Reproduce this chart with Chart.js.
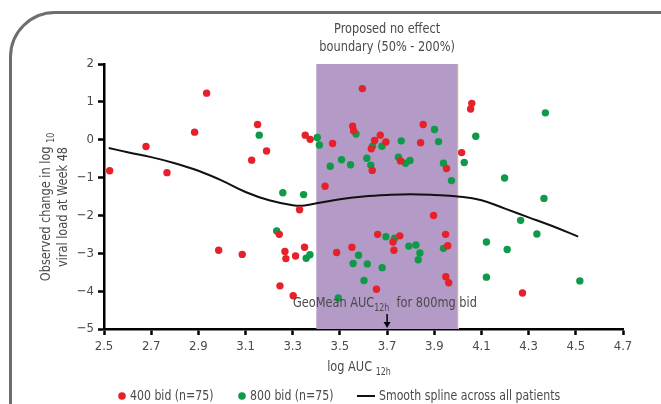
<!DOCTYPE html>
<html>
<head>
<meta charset="utf-8">
<script src="https://cdn.jsdelivr.net/npm/chart.js@4.4.1/dist/chart.umd.min.js"></script>
<style>
	html, body { margin: 0; padding: 0; background: #fff; overflow: hidden; }
	#wrap { position: relative; width: 661px; height: 404px; overflow: hidden; }
	#frame { position: absolute; left: 9px; top: 11px; width: 700px; height: 460px;
		border: 3px solid #6e6e6e; border-radius: 46px; box-sizing: border-box; }
	#chart { position: absolute; left: 0; top: 0; }
</style>
</head>
<body>
<div id="wrap">
	<div id="frame"></div>
	<canvas id="chart" width="661" height="404"></canvas>
</div>
<script>
var xTicks = [2.5, 2.7, 2.9, 3.1, 3.3, 3.5, 3.7, 3.9, 4.1, 4.3, 4.5, 4.7];
var yTicks = [2, 1, 0, -1, -2, -3, -4, -5];
var bandStart = 3.4;
var bandEnd = 4.0;
var geoMean = 3.7;

// 400 bid (red)
var redX = [2.524, 2.678, 2.767, 2.884, 2.935, 3.126, 3.151, 3.189, 3.353, 3.374,
	3.469, 3.437, 3.595, 3.554, 3.558, 3.671, 3.647, 3.633, 3.695, 3.637,
	3.757, 3.853, 3.842, 3.952, 4.059, 4.054, 4.016, 3.329, 3.243, 2.986,
	3.086, 3.267, 3.271, 3.312, 3.350, 3.246, 3.302, 3.897, 3.948, 3.957,
	3.949, 3.961, 3.486, 3.551, 3.655, 3.660, 3.754, 3.725, 3.729, 4.274];
var redY = [-0.82, -0.18, -0.87, 0.20, 1.23, -0.54, 0.40, -0.30, 0.12, 0.01,
	-0.10, -1.23, 1.35, 0.36, 0.24, 0.12, -0.02, -0.24, -0.06, -0.81,
	-0.56, 0.40, -0.08, -0.76, 0.96, 0.81, -0.34, -1.85, -2.50, -2.92,
	-3.03, -2.95, -3.14, -3.07, -2.84, -3.86, -4.12, -2.00, -2.50, -2.80,
	-3.62, -3.78, -2.98, -2.84, -3.95, -2.50, -2.54, -2.70, -2.92, -4.05];

// 800 bid (green)
var greenX = [3.158, 3.258, 3.346, 3.404, 3.413, 3.459, 3.507, 3.545, 3.568, 3.638,
	3.614, 3.631, 3.678, 3.760, 3.748, 3.778, 3.797, 3.901, 3.918, 3.939,
	3.973, 4.076, 4.027, 4.371, 4.198, 4.365, 4.266, 4.335, 4.121, 4.209,
	4.121, 4.517, 3.939, 3.232, 3.357, 3.373, 3.579, 3.556, 3.616, 3.602,
	3.679, 3.493, 3.695, 3.732, 3.792, 3.822, 3.839, 3.832];
var greenY = [0.12, -1.40, -1.45, 0.06, -0.14, -0.70, -0.53, -0.66, 0.15, -0.17,
	-0.49, -0.67, -0.17, -0.03, -0.46, -0.62, -0.55, 0.27, -0.05, -0.62,
	-1.08, 0.09, -0.60, 0.71, -1.01, -1.55, -2.13, -2.49, -2.70, -2.90,
	-3.63, -3.73, -2.87, -2.41, -3.13, -3.04, -3.05, -3.27, -3.28, -3.72,
	-3.38, -4.18, -2.56, -2.60, -2.81, -2.78, -2.99, -3.17];

// smooth spline across all patients
var splineX = [2.52, 2.6, 2.7, 2.8, 2.9, 3.0, 3.1, 3.2, 3.3, 3.35, 3.4, 3.5, 3.6,
	3.7, 3.8, 3.9, 4.0, 4.1, 4.2, 4.3, 4.4, 4.51];
var splineY = [-0.22, -0.33, -0.46, -0.62, -0.82, -1.08, -1.38, -1.60, -1.73, -1.74, -1.68, -1.57, -1.50,
	-1.46, -1.44, -1.46, -1.50, -1.60, -1.82, -2.05, -2.28, -2.56];

var RED = '#e62129';
var GREEN = '#0e9a48';
var PURPLE = '#b49ac7';
var TEXT = '#4a4a4a';
var FONT = "'DejaVu Sans Condensed', 'Liberation Sans Narrow', sans-serif";
var SQUEEZE = 0.87;

var toPoints = function(xs, ys) {
	return xs.map(function(x, i) { return { x: x, y: ys[i] }; });
};

// text with subscript pieces, squeezed horizontally to look condensed
// align: 'center' or 'left'
var richText = function(ctx, parts, x, y, size, align) {
	var widths = parts.map(function(p) {
		ctx.font = (p.sub ? size * 0.7 : size) + 'px ' + FONT;
		return ctx.measureText(p.t).width;
	});
	var total = widths.reduce(function(a, b) { return a + b; }, 0);
	ctx.save();
	ctx.translate(x, y);
	ctx.scale(SQUEEZE, 1);
	var cx = align === 'left' ? 0 : -total / 2;
	ctx.textAlign = 'left';
	ctx.textBaseline = 'middle';
	parts.forEach(function(p, i) {
		ctx.font = (p.sub ? size * 0.7 : size) + 'px ' + FONT;
		ctx.fillText(p.t, cx, p.sub ? size * 0.35 : 0);
		cx += widths[i];
	});
	ctx.restore();
};

var bandPlugin = {
	id: 'band',
	beforeDatasetsDraw: function(chart) {
		var ctx = chart.ctx, xs = chart.scales.x, a = chart.chartArea;
		var x0 = xs.getPixelForValue(bandStart), x1 = xs.getPixelForValue(bandEnd);
		ctx.save();
		ctx.fillStyle = PURPLE;
		ctx.fillRect(x0, a.top, x1 - x0, a.bottom - a.top);
		ctx.fillStyle = '#f3eedd';
		ctx.fillRect(x1, a.top, 1, a.bottom - a.top);
		ctx.restore();
	}
};

var textPlugin = {
	id: 'texts',
	afterDraw: function(chart) {
		var ctx = chart.ctx, xs = chart.scales.x, a = chart.chartArea;
		ctx.save();
		ctx.fillStyle = TEXT;

		// top annotation
		var bx = (xs.getPixelForValue(bandStart) + xs.getPixelForValue(bandEnd)) / 2;
		richText(ctx, [{ t: 'Proposed no effect' }], bx, 29, 14.5);
		richText(ctx, [{ t: 'boundary (50% - 200%)' }], bx, 47, 14.5);

		// geomean annotation + arrow
		var gx = xs.getPixelForValue(geoMean);
		richText(ctx, [{ t: 'GeoMean AUC' }, { t: '12h', sub: true }, { t: '  for 800mg bid' }], 293, 303, 14.5, 'left');
		ctx.strokeStyle = '#000';
		ctx.fillStyle = '#000';
		ctx.lineWidth = 1.5;
		ctx.beginPath();
		ctx.moveTo(gx, a.bottom - 15);
		ctx.lineTo(gx, a.bottom - 6);
		ctx.stroke();
		ctx.beginPath();
		ctx.moveTo(gx - 3.5, a.bottom - 7);
		ctx.lineTo(gx + 3.5, a.bottom - 7);
		ctx.lineTo(gx, a.bottom - 1);
		ctx.closePath();
		ctx.fill();

		// axis titles
		ctx.fillStyle = TEXT;
		richText(ctx, [{ t: 'log AUC ' }, { t: '12h', sub: true }], 359, 367, 14.5);
		ctx.translate(46, 207);
		ctx.rotate(-Math.PI / 2);
		richText(ctx, [{ t: 'Observed change in log ' }, { t: '10', sub: true }], 0, 0, 14.5);
		richText(ctx, [{ t: 'viral load at Week 48' }], 0, 17, 14.5);
		ctx.setTransform(1, 0, 0, 1, 0, 0);

		// legend
		var ly = 396;
		chart.data.datasets.forEach(function(ds, i) {
			var lx = [122, 242, 357][i];
			if (ds.showLine) {
				ctx.strokeStyle = ds.borderColor;
				ctx.lineWidth = 2;
				ctx.beginPath();
				ctx.moveTo(lx, ly);
				ctx.lineTo(lx + 18, ly);
				ctx.stroke();
				ctx.fillStyle = TEXT;
				richText(ctx, [{ t: ds.label }], lx + 22, ly, 14, 'left');
			} else {
				ctx.fillStyle = ds.backgroundColor;
				ctx.beginPath();
				ctx.arc(lx, ly, 3.8, 0, Math.PI * 2);
				ctx.fill();
				ctx.fillStyle = TEXT;
				richText(ctx, [{ t: ds.label }], lx + 8, ly, 14, 'left');
			}
		});
		ctx.restore();
	}
};

var minusFmt = function(v) {
	return v < 0 ? '\u2212' + Math.abs(v) : '' + v;
};

var ctx = document.getElementById('chart').getContext('2d');
window.myChart = new Chart(ctx, {
	type: 'scatter',
	data: {
		datasets: [{
			label: '400 bid (n=75)',
			data: toPoints(redX, redY),
			backgroundColor: RED,
			borderWidth: 0,
			pointRadius: 3.7
		}, {
			label: '800 bid (n=75)',
			data: toPoints(greenX, greenY),
			backgroundColor: GREEN,
			borderWidth: 0,
			pointRadius: 3.7
		}, {
			label: 'Smooth spline across all patients',
			data: toPoints(splineX, splineY),
			showLine: true,
			borderColor: '#111',
			borderWidth: 2,
			pointRadius: 0,
			tension: 0.4
		}]
	},
	options: {
		responsive: false,
		animation: false,
		layout: { padding: { left: 0, top: 64, right: 38, bottom: 0 } },
		plugins: { legend: { display: false }, tooltip: { enabled: false } },
		scales: {
			x: {
				type: 'linear',
				min: 2.5,
				max: 4.7,
				afterBuildTicks: function(s) { s.ticks = xTicks.map(function(v) { return { value: v }; }); },
				afterFit: function(s) { s.height = 75; },
				border: { color: '#000', width: 2.5 },
				grid: { drawOnChartArea: false, drawTicks: true, tickLength: 6, tickColor: '#000', tickWidth: 2.5 },
				ticks: {
					color: TEXT,
					padding: 4,
					font: { family: FONT, size: 13 },
					callback: function(v) { return v.toFixed(1); }
				}
			},
			y: {
				min: -5,
				max: 2,
				afterBuildTicks: function(s) { s.ticks = yTicks.map(function(v) { return { value: v }; }); },
				afterFit: function(s) { s.width = 104; },
				border: { color: '#000', width: 2.5 },
				grid: { drawOnChartArea: false, drawTicks: true, tickLength: 6, tickColor: '#000', tickWidth: 2.5 },
				ticks: {
					color: TEXT,
					padding: 4,
					font: { family: FONT, size: 13 },
					callback: minusFmt
				}
			}
		}
	},
	plugins: [bandPlugin, textPlugin]
});
</script>
</body>
</html>
